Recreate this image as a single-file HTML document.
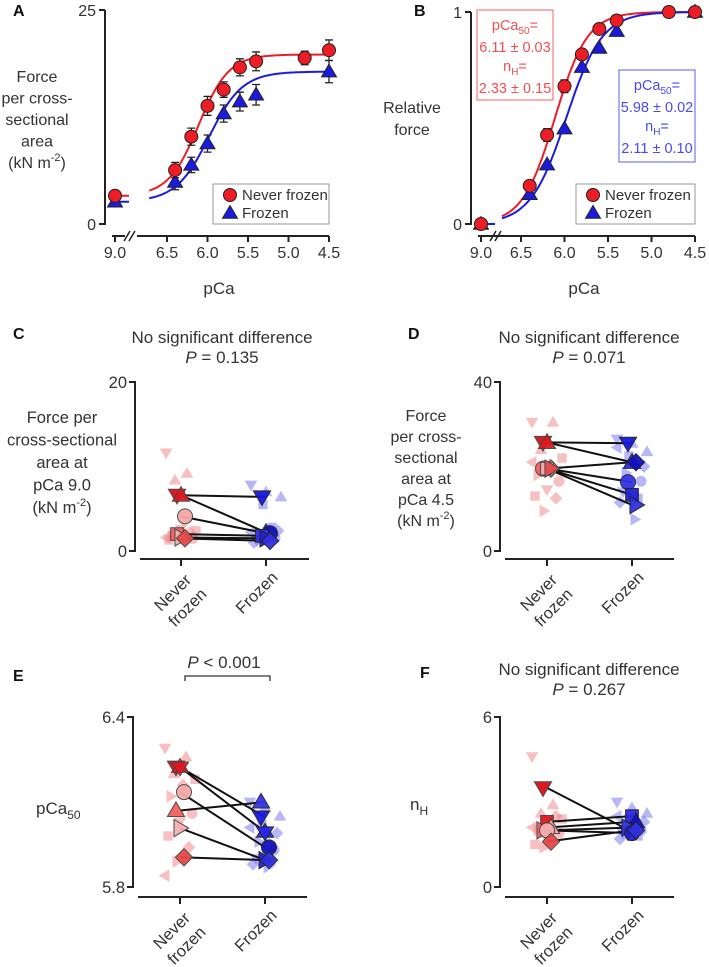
<!DOCTYPE html>
<html><head><meta charset="utf-8"><style>
html,body{margin:0;padding:0;background:#fff;}
svg{display:block;font-family:"Liberation Sans",Arial,sans-serif;}
</style></head><body>
<svg id="fig" width="709" height="967" viewBox="0 0 709 967" xmlns="http://www.w3.org/2000/svg">
<g id="root"></g>
</svg>
<script>
// ---------- Panel A/B data ----------
const pcaNF = [9.0, 6.4, 6.2, 6.0, 5.8, 5.6, 5.4, 4.8, 4.5];
const forceNF = [3.3, 6.3, 10.2, 13.8, 15.7, 18.3, 19.0, 19.4, 20.3];
const semNF = [0.6, 0.9, 1.0, 1.1, 0.9, 1.0, 1.1, 0.8, 1.2];
const pcaFZ = [9.0, 6.4, 6.2, 6.0, 5.8, 5.6, 5.4, 4.5];
const forceFZ = [2.6, 4.9, 6.9, 9.4, 12.9, 14.3, 15.1, 17.8];
const semFZ = [0.5, 0.9, 0.9, 1.0, 1.0, 1.1, 1.2, 1.3];
const relNF = [0.0, 0.18, 0.42, 0.65, 0.80, 0.92, 0.96, 1.0, 1.0];
const relSemNF = [0, 0.02, 0.03, 0.03, 0.02, 0.01, 0.01, 0, 0];
const relFZ = [0.0, 0.14, 0.28, 0.45, 0.74, 0.83, 0.91, 1.0];
const fitNF = {min: 3.3, max: 19.8, p50: 6.11, n: 2.33};
const fitFZ = {min: 2.6, max: 17.8, p50: 5.98, n: 2.11};
const xTicks = [6.5, 6.0, 5.5, 5.0, 4.5];
const xTickLabels = ["6.5", "6.0", "5.5", "5.0", "4.5"];

// ---------- Panel C data (kN m-2 at pCa 9.0) ----------
const cPairNever = [6.6, 6.6, 4.1, 2.0, 1.6, 1.5];
const cPairFrozen = [6.4, 2.2, 2.1, 1.8, 1.5, 1.2];
const cPairShape = ["down", "up", "circle", "square", "right", "diamond"];
const cFaintNever = [11.6, 9.2, 8.4, 2.4, 2.1, 1.8, 1.5, 2.6, 1.3, 2.2, 1.9, 1.6];
const cFaintFrozen = [7.8, 7.0, 6.4, 5.5, 2.4, 1.9, 1.5, 1.2, 2.8, 1.0, 1.7, 2.2];

// ---------- Panel D data (kN m-2 at pCa 4.5) ----------
const dPairNever = [25.7, 25.7, 19.5, 19.5, 19.5, 19.5];
const dPairFrozen = [25.5, 21.0, 21.0, 16.3, 13.3, 10.9];
const dPairShape = ["down", "up", "diamond", "circle", "square", "right"];
const dFaintNever = [30.5, 30.5, 24.0, 22.0, 20.5, 18.0, 16.5, 14.5, 13.0, 12.5, 9.5, 21.0];
const dFaintFrozen = [26.5, 25.5, 23.5, 22.5, 20.0, 18.5, 16.5, 14.0, 12.5, 11.5, 7.5, 24.5];

// ---------- Panel E data (pCa50) ----------
const ePairNever = [6.223, 6.223, 6.135, 6.070, 6.008, 5.905];
const ePairFrozen = [6.047, 5.994, 5.940, 6.100, 5.895, 5.895];
const ePairShape = ["down", "star", "circle", "up", "right", "diamond"];
const eFaintNever = [6.29, 6.26, 6.20, 6.18, 6.16, 6.12, 6.06, 6.03, 5.98, 5.94, 5.89, 5.84];
const eFaintFrozen = [6.10, 6.08, 6.05, 6.02, 5.99, 5.96, 5.93, 5.90, 5.89, 5.88, 5.87, 6.01];

// ---------- Panel F data (nH) ----------
const fPairNever = [3.5, 2.3, 2.1, 2.0, 2.0, 1.6];
const fPairFrozen = [1.95, 2.5, 2.3, 2.1, 1.9, 2.0];
const fPairShape = ["down", "square", "up", "right", "circle", "diamond"];
const fFaintNever = [4.6, 2.9, 2.6, 2.4, 2.2, 2.0, 1.9, 1.7, 1.5, 2.5, 1.4, 2.1];
const fFaintFrozen = [3.0, 2.8, 2.6, 2.4, 2.3, 2.2, 2.0, 1.9, 1.8, 1.7, 2.1, 2.5];

const NS = "http://www.w3.org/2000/svg";
const root = document.getElementById("root");
const RED = "#ee1c24", BLUE = "#1a1ae0", TXT = "#333";

function el(tag, attrs, parent) {
  const e = document.createElementNS(NS, tag);
  for (const k in attrs) e.setAttribute(k, attrs[k]);
  (parent || root).appendChild(e);
  return e;
}
function txt(s, x, y, size, parent, anchor, extra) {
  const t = el("text", Object.assign({x: x, y: y, "font-size": size, fill: TXT, "text-anchor": anchor || "middle"}, extra || {}), parent);
  t.textContent = s;
  return t;
}
function sym(parent, shape, cx, cy, r, fill, stroke, op) {
  let e;
  const a = {fill: fill, stroke: stroke, "stroke-width": stroke === "none" ? 0 : 1, opacity: op};
  if (shape === "circle") e = el("circle", Object.assign({cx: cx, cy: cy, r: r}, a), parent);
  else if (shape === "square") e = el("rect", Object.assign({x: cx - r * 0.85, y: cy - r * 0.85, width: r * 1.7, height: r * 1.7}, a), parent);
  else {
    let p;
    const k = r * 1.15;
    if (shape === "up") p = [[cx, cy - k], [cx - k, cy + k * 0.7], [cx + k, cy + k * 0.7]];
    else if (shape === "down") p = [[cx, cy + k], [cx - k, cy - k * 0.7], [cx + k, cy - k * 0.7]];
    else if (shape === "right") p = [[cx + k, cy], [cx - k * 0.7, cy - k], [cx - k * 0.7, cy + k]];
    else if (shape === "left") p = [[cx - k, cy], [cx + k * 0.7, cy - k], [cx + k * 0.7, cy + k]];
    else if (shape === "diamond") p = [[cx, cy - k], [cx + k, cy], [cx, cy + k], [cx - k, cy]];
    else if (shape === "star") {
      el("polygon", Object.assign({points: [[cx, cy - k], [cx - k, cy + k * 0.6], [cx + k, cy + k * 0.6]].map(q => q.join(",")).join(" ")}, a), parent);
      p = [[cx, cy + k], [cx - k, cy - k * 0.6], [cx + k, cy - k * 0.6]];
    }
    e = el("polygon", Object.assign({points: p.map(q => q.join(",")).join(" ")}, a), parent);
  }
  return e;
}
function hill(f, p) { return f.min + (f.max - f.min) / (1 + Math.pow(10, f.n * (p - f.p50))); }
function hillRel(f, p) { return 1 / (1 + Math.pow(10, f.n * (p - f.p50))); }

// ---------- pCa panels ----------
function pcaPanel(o) {
  const g = el("g", {}, root);
  
  
  const X = p => p >= 8.5 ? o.x9 : o.x65 + (6.5 - p) * o.perUnit;
  const Y = v => o.y0 - (v / o.ymax) * (o.y0 - o.ytop);
  const ya = el("path", {d: `M${o.ax},${o.ytop} H${o.ax - 6} M${o.ax},${o.ytop} V${o.y0} H${o.ax - 6}`, stroke: "#222", "stroke-width": 2, fill: "none"}, g);
   
  txt(o.ytopLabel, o.ax - 9, o.ytop + 6, 16, g, "end");
  txt("0", o.ax - 9, o.y0 + 6, 16, g, "end");
  const xb = o.xAxisY;
  const xa = el("path", {d: `M${o.x9 - 3},${xb} H${o.x9 + 10} M${o.x65 - 30},${xb} H${X(4.5)}`, stroke: "#222", "stroke-width": 2, fill: "none"}, g);
   
  el("path", {d: `M${o.x9 + 9},${xb + 5} L${o.x9 + 15},${xb - 5} M${o.x9 + 14},${xb + 5} L${o.x9 + 20},${xb - 5}`, stroke: "#222", "stroke-width": 1.5}, g);
  el("line", {x1: o.x9, x2: o.x9, y1: xb, y2: xb + 6, stroke: "#222", "stroke-width": 2}, g);
  txt("9.0", o.x9, xb + 22, 16, g);
  xTicks.forEach((p, i) => {
    el("line", {x1: X(p), x2: X(p), y1: xb, y2: xb + 6, stroke: "#222", "stroke-width": 2}, g);
    const t = txt(xTickLabels[i], X(p), xb + 22, 16, g);
     
  });
  const xl = txt("pCa", o.xlabelX, o.xAxisY + 58, 17, g);
   
  [[o.fitN, RED], [o.fitF, BLUE]].forEach(([f, c]) => {
    let d = "";
    for (let p = 6.72; p >= 4.5; p -= 0.02) d += (d ? "L" : "M") + X(p).toFixed(1) + "," + Y(o.fn(f, p)).toFixed(1);
    const cv = el("path", {d: d, stroke: c, "stroke-width": 2, fill: "none"}, g);
     
    el("line", {x1: o.x9, x2: o.x9 + 14, y1: Y(o.fn(f, 9.0)), y2: Y(o.fn(f, 9.0)), stroke: c, "stroke-width": 2}, g);
  });
  function series(ps, vs, ss, shape, c) {
    ps.forEach((p, i) => {
      const cx = X(p), cy = Y(vs[i]);
      if (ss && ss[i] > 0) {
        const e1 = Y(vs[i] + ss[i]), e2 = Y(vs[i] - ss[i]);
        el("path", {d: `M${cx},${e1} V${e2} M${cx - 4},${e1} H${cx + 4} M${cx - 4},${e2} H${cx + 4}`, stroke: "#222", "stroke-width": 1.3, fill: "none"}, g);
      }
      const m = sym(g, shape, cx, cy, 6.5, c, "#222", 1);
      
      
    });
  }
  series(pcaFZ, o.vF, o.sF, "up", BLUE);
  series(pcaNF, o.vN, o.sN, "circle", RED);
  const lg = el("g", {}, g);
   
  el("rect", {x: o.legX, y: 184, width: X(4.5) - o.legX, height: 40, fill: "#fff", stroke: "#999", "stroke-width": 1}, lg);
  sym(lg, "circle", o.legX + 17, 195, 6.5, RED, "#222", 1);
  sym(lg, "up", o.legX + 17, 213, 6.5, BLUE, "#222", 1);
  txt("Never frozen", o.legX + 29, 200, 15, lg, "start");
  txt("Frozen", o.legX + 29, 218, 15, lg, "start");
}

pcaPanel({name: "panel-a", ax: 105, ytop: 10, y0: 224, ymax: 25, ytopLabel: "25", xAxisY: 236, x9: 115, x65: 167, perUnit: 81,
  fitN: fitNF, fitF: fitFZ, fn: hill, vN: forceNF, sN: semNF, vF: forceFZ, sF: semFZ, legX: 213, xlabelX: 219});
pcaPanel({name: "panel-b", ax: 471, ytop: 12, y0: 224, ymax: 1, ytopLabel: "1", xAxisY: 236, x9: 481, x65: 521, perUnit: 87,
  fitN: fitNF, fitF: fitFZ, fn: hillRel, vN: relNF, sN: relSemNF, vF: relFZ, sF: null, legX: 576, xlabelX: 584});

function label(s, x, y) { const t = txt(s, x, y, 16, root, "start", {"font-weight": "bold", fill: "#111"});   }
label("A", 13, 16); label("B", 414, 16); label("C", 13, 339); label("D", 408, 339); label("E", 13, 681); label("F", 420, 678);

function multi(lines, x, y0, lh, name, fs) {
  const t = el("text", {x: x, y: y0, "font-size": fs || 16, fill: TXT, "text-anchor": "middle"});
   
  lines.forEach((l, i) => {
    const ts = el("tspan", {x: x, y: y0 + i * lh}, t);
    if (l.indexOf("^") >= 0) {
      const parts = l.split("^");
      ts.textContent = parts[0];
      const s = el("tspan", {"font-size": 11, dy: -7}, t); s.textContent = parts[1].split("|")[0];
      const r = el("tspan", {dy: 7}, t); r.textContent = parts[1].split("|")[1];
    } else ts.textContent = l;
  });
}
multi(["Force", "per cross-", "sectional", "area", "(kN m^-2|)"], 37, 82, 21.5, "y-axis-title-a", 16);
multi(["Relative", "force"], 412, 113, 22, "y-axis-title-b", 16);
multi(["Force per", "cross-sectional", "area at", "pCa 9.0", "(kN m^-2|)"], 62, 423, 22.5, "y-axis-title-c", 16.5);
multi(["Force", "per cross-", "sectional", "area at", "pCa 4.5", "(kN m^-2|)"], 426, 421, 21, "y-axis-title-d", 16);

function fitBox(x, y, w, h, c, l1, l2, name) {
  const g = el("g", {});  
  el("rect", {x: x, y: y, width: w, height: h, fill: "#fff", stroke: c, "stroke-width": 1, opacity: 0.9}, g);
  const cx = x + w / 2;
  const t1 = el("text", {x: cx, y: y + 20, "font-size": 14.5, fill: c, "text-anchor": "middle"}, g);
  t1.textContent = "pCa"; const s1 = el("tspan", {"font-size": 10, dy: 4}, t1); s1.textContent = "50"; const e1 = el("tspan", {dy: -4}, t1); e1.textContent = "=";
  txt(l1, cx, y + 42, 14.5, g, "middle", {fill: c});
  const t2 = el("text", {x: cx, y: y + 61, "font-size": 14.5, fill: c, "text-anchor": "middle"}, g);
  t2.textContent = "n"; const s2 = el("tspan", {"font-size": 10, dy: 4}, t2); s2.textContent = "H"; const e2 = el("tspan", {dy: -4}, t2); e2.textContent = "=";
  txt(l2, cx, y + 83, 14.5, g, "middle", {fill: c});
}
fitBox(477, 10, 76, 90, "#f05050", "6.11 ± 0.03", "2.33 ± 0.15", "fit-box-never-frozen");
fitBox(619, 70, 76, 92, "#4a4af0", "5.98 ± 0.02", "2.11 ± 0.10", "fit-box-frozen");

const pairRed = ["#d81018", "#e01820", "#f4a8a8", "#f06060", "#f4b0b0", "#e84848"];
const pairBlue = ["#1818e0", "#2828e8", "#1010c0", "#3434e8", "#2020d8", "#3030e0"];
const faintShapes = ["down", "up", "up", "square", "diamond", "right", "circle", "down", "square", "diamond", "right", "left"];

function scatterPanel(o) {
  const g = el("g", {});  
  const Y = v => o.y0 - (v - o.vmin) / (o.vmax - o.vmin) * (o.y0 - o.ytop);
  const ya = el("path", {d: `M${o.ax - 6},${o.ytop} H${o.ax} V${o.y0} H${o.ax - 6}`, stroke: "#222", "stroke-width": 2, fill: "none"}, g);
   
  txt(o.topLab, o.ax - 8, o.ytop + 6, 16.5, g, "end");
  txt(o.botLab, o.ax - 8, o.y0 + 6, 16.5, g, "end");
  const xa = el("path", {d: `M${o.ax + 5},${o.xAxisY} H${o.ax + 174} M${o.t1},${o.xAxisY} v7 M${o.t2},${o.xAxisY} v7`, stroke: "#222", "stroke-width": 2, fill: "none"}, g);
   
  [[o.t1 - 8, ["Never", "frozen"]], [o.t2 - 9, ["Frozen"]]].forEach(([x, ls]) => {
    const tg = el("g", {transform: `translate(${x},${o.xAxisY + 34}) rotate(-45)`}, g);
     
    ls.forEach((l, i) => txt(l, 0, 5 + i * 21, 16.5, tg));
  });
  o.fN.forEach((v, i) => { const c = sym(g, faintShapes[i], o.t1 + ((i * 7) % 11 - 5) * 3, Y(v), 5.5, "#f08080", "none", 0.5);   });
  o.fF.forEach((v, i) => { const c = sym(g, faintShapes[i], o.t2 + ((i * 5) % 11 - 5) * 3, Y(v), 5.5, "#7070f0", "none", 0.5);   });
  o.pN.forEach((v, i) => {
    const ln = el("line", {x1: o.t1, y1: Y(v), x2: o.t2, y2: Y(o.pF[i]), stroke: "#111", "stroke-width": 2}, g);
     
  });
  o.pN.forEach((v, i) => {
    const a = sym(g, o.sh[i], o.t1 + ((i % 3) - 1) * 4, Y(v), 7.5, pairRed[i], "#444", 0.95);
     
    const b = sym(g, o.sh[i], o.t2 + ((i % 3) - 1) * 4, Y(o.pF[i]), 7.5, pairBlue[i], "#222", 0.95);
     
  });
  if (o.title) {
    const t = txt(o.title, o.tx, o.ty, 17, g);  
  }
  const pt = el("text", {x: o.tx, y: o.ty + 20, "font-size": 17, fill: TXT, "text-anchor": "middle"}, g);
   
  const pi = el("tspan", {"font-style": "italic"}, pt); pi.textContent = "P";
  const pr = el("tspan", {}, pt); pr.textContent = o.pText;
}
scatterPanel({name: "panel-c", ax: 135, ytop: 382, y0: 551, vmin: 0, vmax: 20, topLab: "20", botLab: "0", xAxisY: 559, t1: 181, t2: 266,
  fN: cFaintNever, fF: cFaintFrozen, pN: cPairNever, pF: cPairFrozen, sh: cPairShape, title: "No significant difference", tx: 222, ty: 343, pText: " = 0.135"});
scatterPanel({name: "panel-d", ax: 500, ytop: 382, y0: 551, vmin: 0, vmax: 40, topLab: "40", botLab: "0", xAxisY: 559, t1: 547, t2: 632,
  fN: dFaintNever, fF: dFaintFrozen, pN: dPairNever, pF: dPairFrozen, sh: dPairShape, title: "No significant difference", tx: 589, ty: 343, pText: " = 0.071"});
scatterPanel({name: "panel-e", ax: 133, ytop: 717, y0: 887, vmin: 5.8, vmax: 6.4, topLab: "6.4", botLab: "5.8", xAxisY: 897, t1: 180, t2: 265,
  fN: eFaintNever, fF: eFaintFrozen, pN: ePairNever, pF: ePairFrozen, sh: ePairShape, title: null, tx: 224, ty: 648, pText: " < 0.001"});
scatterPanel({name: "panel-f", ax: 500, ytop: 717, y0: 887, vmin: 0, vmax: 6, topLab: "6", botLab: "0", xAxisY: 897, t1: 547, t2: 632,
  fN: fFaintNever, fF: fFaintFrozen, pN: fPairNever, pF: fPairFrozen, sh: fPairShape, title: "No significant difference", tx: 589, ty: 675, pText: " = 0.267"});

const br = el("path", {d: "M185,681 V676 H270 V681", stroke: "#333", "stroke-width": 1.3, fill: "none"});
 

const ey = el("text", {x: 36, y: 814, "font-size": 17, fill: TXT});  
ey.textContent = "pCa"; const es = el("tspan", {"font-size": 12, dy: 5}, ey); es.textContent = "50";
const fy = el("text", {x: 410, y: 810, "font-size": 17, fill: TXT});  
fy.textContent = "n"; const fs = el("tspan", {"font-size": 12, dy: 5}, fy); fs.textContent = "H";
</script>
</body></html>
